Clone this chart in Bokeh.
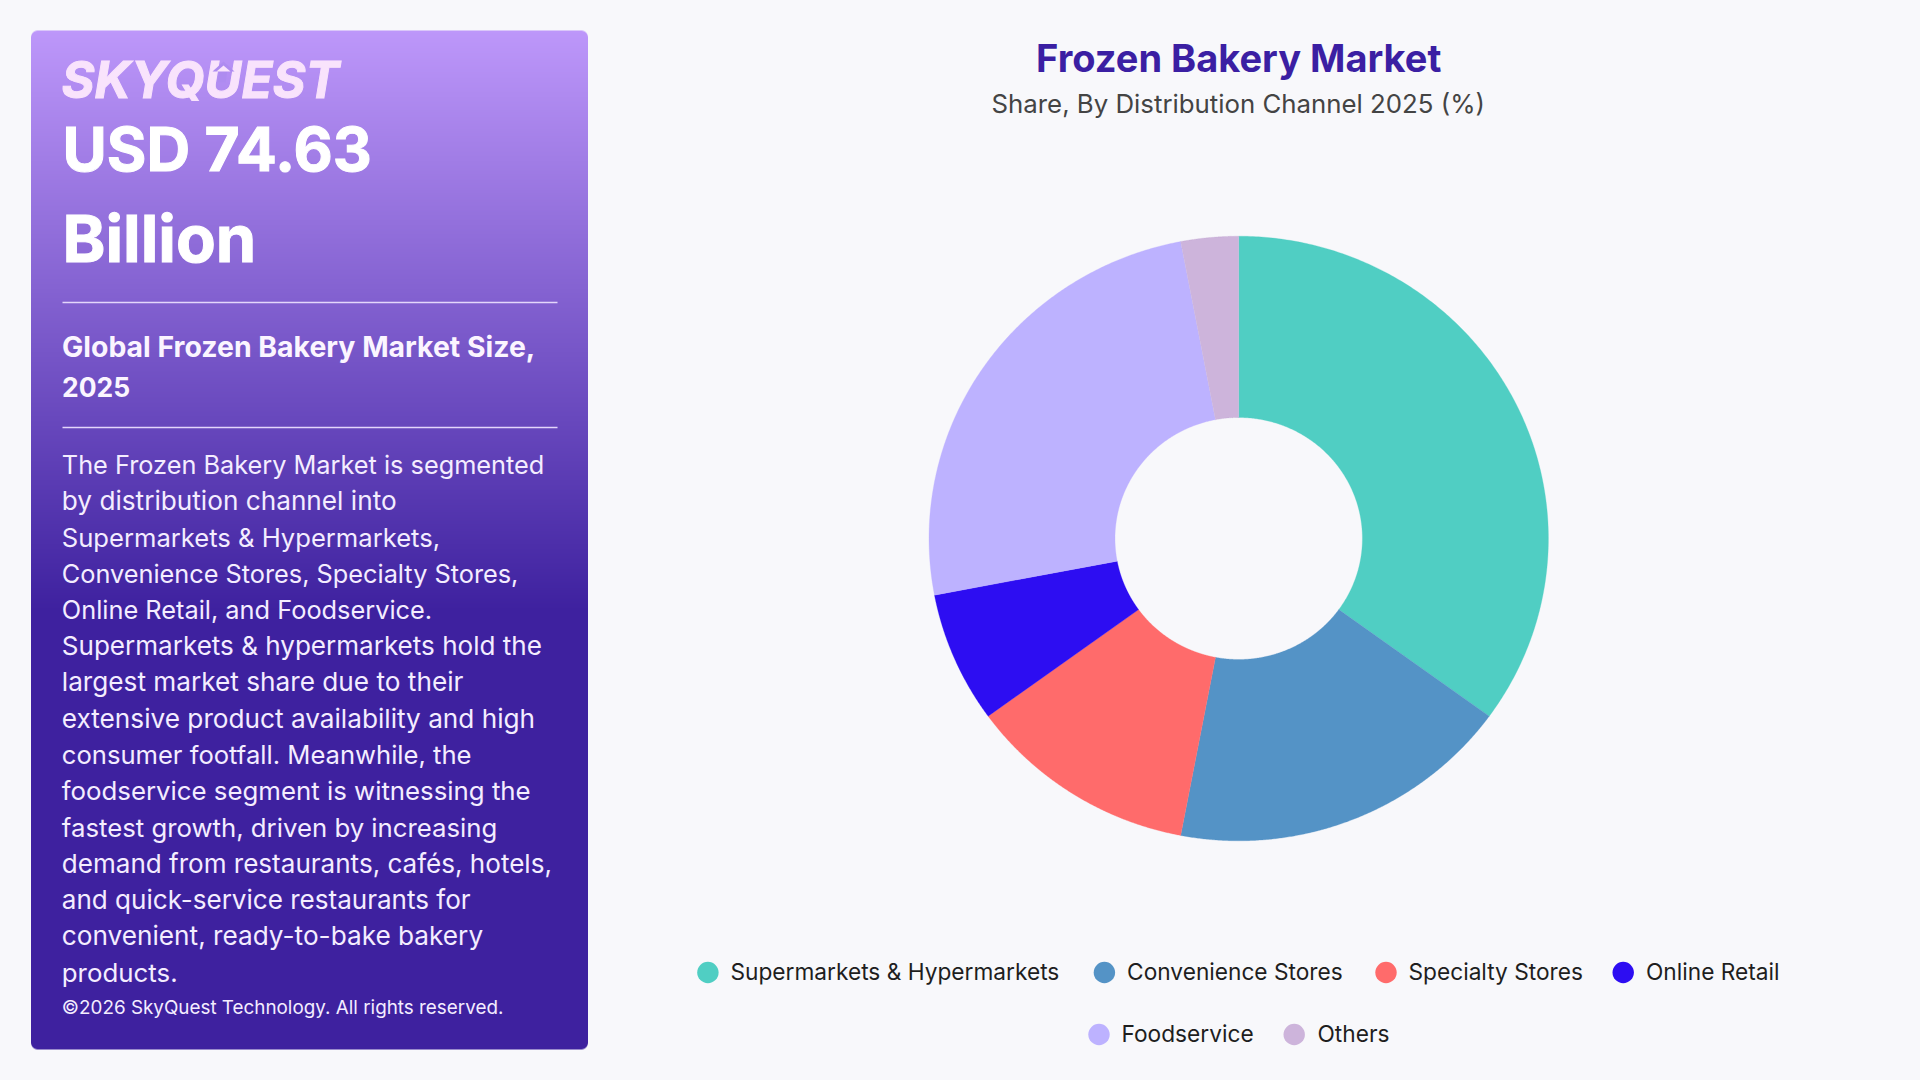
import numpy as np
from bokeh.plotting import figure
from bokeh.models import Range1d
from bokeh.core.properties import value
from bokeh.embed import file_html
from bokeh.resources import INLINE

categories = ["Supermarkets & Hypermarkets", "Convenience Stores", "Specialty Stores",
              "Online Retail", "Foodservice", "Others"]
shares = [35, 18, 12, 7, 25, 3]
colors = ["#50CEC3", "#5493C6", "#FF6B6B", "#2D0DF2", "#BDB2FF", "#CDB4DB"]

title = "Frozen Bakery Market"
subtitle = "Share, By Distribution Channel 2025 (%)"
logo = "SKYQUEST"
headline = ["USD 74.63", "Billion"]
size_label = ["Global Frozen Bakery Market Size,", "2025"]
paragraph = [
    "The Frozen Bakery Market is segmented",
    "by distribution channel into",
    "Supermarkets & Hypermarkets,",
    "Convenience Stores, Specialty Stores,",
    "Online Retail, and Foodservice.",
    "Supermarkets & hypermarkets hold the",
    "largest market share due to their",
    "extensive product availability and high",
    "consumer footfall. Meanwhile, the",
    "foodservice segment is witnessing the",
    "fastest growth, driven by increasing",
    "demand from restaurants, cafés, hotels,",
    "and quick-service restaurants for",
    "convenient, ready-to-bake bakery",
    "products.",
]
paragraph_px = [25.3, 26.2, 25.6, 25.3, 25.35, 26.05, 26.2, 26.2, 25.6, 25.8, 25.75, 26.05,
                26.05, 26.2, 25.85]
copyright_line = "©2026 SkyQuest Technology. All rights reserved."

BG = "#F8F8FB"
FONT = "Inter"


def Y(py):
    return 1080 - py


p = figure(width=1920, height=1080, x_range=Range1d(0, 1920), y_range=Range1d(0, 1080),
           output_backend="svg", toolbar_location=None, min_border=0,
           background_fill_color=BG, border_fill_color=BG, outline_line_color=None)
p.axis.visible = False
p.grid.visible = False

# left panel: vertical gradient with rounded corners
PX0, PX1, PY0, PY1 = 30.5, 587.5, 30, 1049
W, H = int(PX1 - PX0), int(PY1 - PY0)
top_c, bot_c = np.array([189, 151, 250.0]), np.array([62, 33, 159.0])
rows = np.arange(H)
t = np.clip(rows / 580.0, 0, 1)[:, None]
rgb = top_c * (1 - t) + bot_c * t
img = np.zeros((H, W, 4), dtype=np.uint8)
img[:, :, :3] = rgb[:, None, :].round().astype(np.uint8)
yy, xx = np.mgrid[0:H, 0:W]
R = 7.0
dx = np.maximum(np.maximum(R - xx - 0.5, xx + 0.5 - (W - R)), 0)
dy = np.maximum(np.maximum(R - yy - 0.5, yy + 0.5 - (H - R)), 0)
img[:, :, 3] = (np.clip(R - np.hypot(dx, dy) + 0.5, 0, 1) * 255).astype(np.uint8)
rgba = np.zeros((H, W), dtype=np.uint32)
rgba.view(np.uint8).reshape((H, W, 4))[:] = img[::-1]
p.image_rgba(image=[rgba], x=PX0, y=Y(PY1), dw=W, dh=H)


def label(x, py, txt, size, color, style="normal", align="left", font=FONT, outline=None):
    # the renderer sets an "alphabetic" baseline about 0.36 em below the anchor
    p.text(x=[x], y=[Y(py - 0.36 * size)], text=[txt], text_font=value(font),
           text_font_size=f"{size}px", text_color=color, text_font_style=style,
           text_align=align, text_baseline="alphabetic", text_outline_color=outline)


label(61, 97, logo, 50.5, "#F9E3FC", style="bold italic", outline="#F9E3FC")
# arrow worked into the U of the logo
p.patches([[212, 223, 234], [219, 227, 225, 217]],
          [[Y(71), Y(61), Y(71)], [Y(69), Y(69), Y(82), Y(82)]],
          fill_color=["#AE8BF0", "#AE8BF0"], line_color=None)
p.patches([[216, 223, 230]], [[Y(71), Y(65), Y(71)]], fill_color="#F9E3FC", line_color=None)
label(62, 170, headline[0], 60.5, "#FFFFFF", style="bold", outline="#FFFFFF")
label(62, 261, headline[1], 65, "#FFFFFF", style="bold", outline="#FFFFFF")
label(61.5, 356, size_label[0], 28.4, "#FBF5FF", style="bold")
label(61.5, 396, size_label[1], 26.5, "#FBF5FF", style="bold")
for py in (302, 427):
    p.line([62, 557], [Y(py), Y(py)], line_color="#E4D6FB", line_width=1.5)
for i, (line, px) in enumerate(zip(paragraph, paragraph_px)):
    label(61.3, 473.3 + 36.26 * i, line, px, "#F4EDFF")
label(61.3, 1014, copyright_line, 18.85, "#F4EDFF")

# titles
label(1238.2, 70.7, title, 38, "#3B1FA3", style="bold", align="center")
label(1237.7, 112, subtitle, 25.8, "#444444", align="center")

# donut: clockwise from twelve o'clock, drawn through data-space polygons
CX, CY, RX, RY, IRX, IRY = 1238.2, 538.0, 309.7, 302.3, 123.7, 121.0
edges = np.cumsum([0] + shares) / sum(shares) * 2 * np.pi
xs, ys = [], []
for a0, a1 in zip(edges[:-1], edges[1:]):
    th = np.linspace(a0, a1, 240)
    xs.append(np.r_[CX + RX * np.sin(th), CX + IRX * np.sin(th[::-1])])
    ys.append(np.r_[Y(CY - RY * np.cos(th)), Y(CY - IRY * np.cos(th[::-1]))])
p.patches(xs, ys, fill_color=colors, line_color=colors, line_width=0.3)

# legend
dot_x = [707.4, 1103.9, 1385.5, 1622.7, 1098.5, 1293.7]
dot_py = [972, 972, 972, 972, 1034, 1034]
text_x = [730, 1126.6, 1408, 1645.5, 1121, 1317]
p.scatter(dot_x, [Y(v) for v in dot_py], size=21.4, fill_color=colors, line_color=None)
for c, x, py in zip(categories, text_x, dot_py):
    label(x, py + 7.6, c, 22.7, "#1E1E1E")

html = file_html(p, INLINE, title="Frozen Bakery Market")
html = html.replace("<head>", f"<head><style>html,body{{background:{BG};}}</style>", 1)
open("out.html", "w").write(html)
